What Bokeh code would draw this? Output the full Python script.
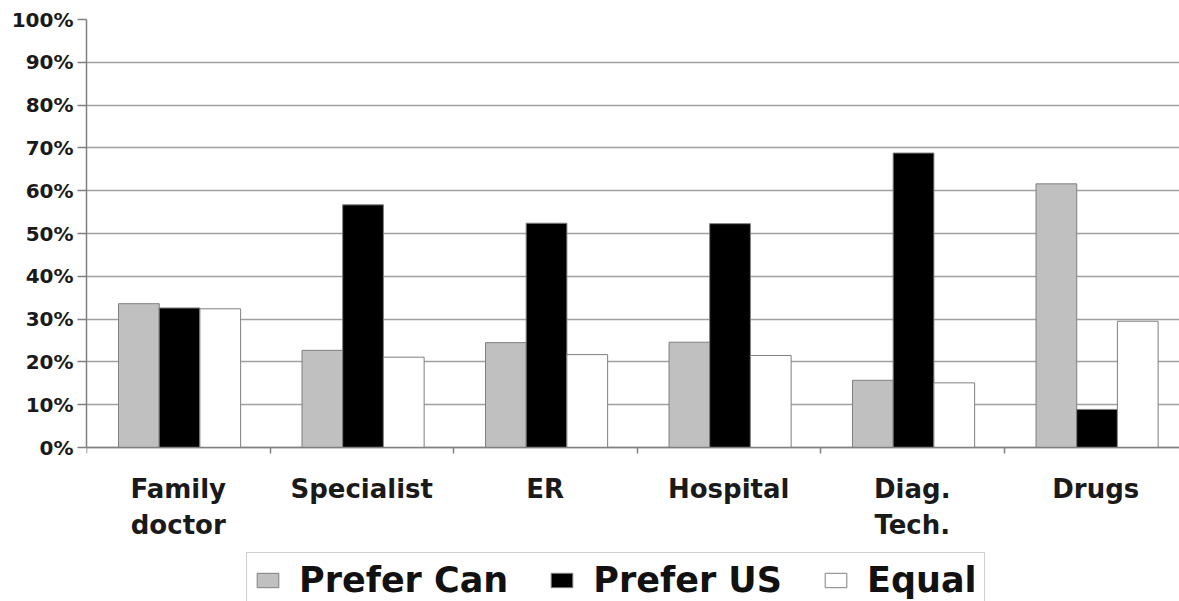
from bokeh.plotting import figure
from bokeh.models import (Range1d, FixedTicker, NumeralTickFormatter, ColumnDataSource,
                          Legend, LegendItem)
from bokeh.transform import dodge
from bokeh.embed import file_html
from bokeh.resources import INLINE

# ---- data ----
categories = ["Family\ndoctor", "Specialist", "ER", "Hospital", "Diag.\nTech.", "Drugs"]
prefer_can = [33.6, 22.7, 24.5, 24.6, 15.7, 61.6]
prefer_us = [32.6, 56.7, 52.4, 52.3, 68.8, 8.9]
equal = [32.4, 21.1, 21.7, 21.5, 15.1, 29.5]
series_names = ["Prefer Can", "Prefer US", "Equal"]
y_ticks = [i / 10 for i in range(11)]

centers = [i + 0.5 for i in range(len(categories))]
bounds = [float(i) for i in range(len(categories) + 1)]

source = ColumnDataSource(dict(
    x=centers,
    can=[v / 100 for v in prefer_can],
    us=[v / 100 for v in prefer_us],
    eq=[v / 100 for v in equal],
))

FONT = "DejaVu Sans"
W, H = 1179, 601
LEFT, TOP = 86, 19
ZERO_Y = 447          # pixel row of 0%
UNIT = ZERO_Y - TOP   # pixels for 100%

p = figure(width=W, height=H, output_backend="svg", toolbar_location=None,
           x_range=Range1d(0, (W - LEFT) / 183.5),
           y_range=Range1d(-(H - ZERO_Y) / UNIT, 1),
           min_border_left=LEFT, min_border_right=0, min_border_top=TOP, min_border_bottom=0)
p.outline_line_color = None
p.background_fill_color = "white"

bw = 0.222
r1 = p.vbar(x=dodge("x", -0.2145, range=p.x_range), top="can", width=bw, source=source,
            fill_color="#c0c0c0", line_color="#7f7f7f", line_width=1)
r2 = p.vbar(x=dodge("x", 0.007, range=p.x_range), top="us", width=bw, source=source,
            fill_color="#000000", line_color="#7f7f7f", line_width=1)
r3 = p.vbar(x=dodge("x", 0.229, range=p.x_range), top="eq", width=bw, source=source,
            fill_color="#ffffff", line_color="#7f7f7f", line_width=1)

# y axis
p.yaxis.ticker = FixedTicker(ticks=y_ticks)
p.yaxis.bounds = (0, 1)
p.yaxis.formatter = NumeralTickFormatter(format="0%")
p.yaxis.major_label_text_font = FONT
p.yaxis.major_label_text_font_style = "bold"
p.yaxis.major_label_text_font_size = "20px"
p.yaxis.major_label_text_color = "#1a1a1a"
p.yaxis.major_tick_out = 9
p.yaxis.major_tick_in = 0
p.yaxis.minor_tick_line_color = None
p.yaxis.axis_line_color = "#808080"
p.yaxis.axis_line_width = 1.5
p.yaxis.major_tick_line_color = "#808080"
p.yaxis.major_tick_line_width = 1.5
p.yaxis.major_label_standoff = 4

# x axis, drawn at 0%
p.xaxis.fixed_location = 0
p.xaxis.ticker = FixedTicker(ticks=centers, minor_ticks=bounds)
p.xaxis.major_label_overrides = {c: lab for c, lab in zip(centers, categories)}
p.xaxis.major_tick_line_color = None
p.xaxis.major_tick_out = 6
p.xaxis.minor_tick_out = 6
p.xaxis.minor_tick_in = 0
p.xaxis.minor_tick_line_color = "#808080"
p.xaxis.minor_tick_line_width = 1.5
p.xaxis.axis_line_color = "#808080"
p.xaxis.axis_line_width = 1.5
p.xaxis.major_label_text_font = FONT
p.xaxis.major_label_text_font_style = "bold"
p.xaxis.major_label_text_font_size = "26px"
p.xaxis.major_label_text_color = "#1a1a1a"
p.xaxis.major_label_standoff = 20

# grid
p.xgrid.grid_line_color = None
p.ygrid.ticker = FixedTicker(ticks=y_ticks)
p.ygrid.grid_line_color = "#a0a0a0"
p.ygrid.grid_line_width = 1.5

legend = Legend(items=[LegendItem(label=series_names[0], renderers=[r1]),
                       LegendItem(label=series_names[1], renderers=[r2]),
                       LegendItem(label=series_names[2], renderers=[r3])],
                orientation="horizontal", location=(246 - LEFT, -7))
legend.label_text_font = FONT
legend.label_text_font_style = "bold"
legend.label_text_font_size = "35px"
legend.label_text_color = "#111111"
legend.glyph_width = 27
legend.glyph_height = 18
legend.label_standoff = 18
legend.spacing = 40
legend.padding = 7
legend.margin = 0
legend.border_line_color = "#a0a0a0"
legend.border_line_width = 1.5
legend.background_fill_color = "white"
legend.background_fill_alpha = 1
p.add_layout(legend, "center")

open("out.html", "w").write(file_html(p, INLINE))
